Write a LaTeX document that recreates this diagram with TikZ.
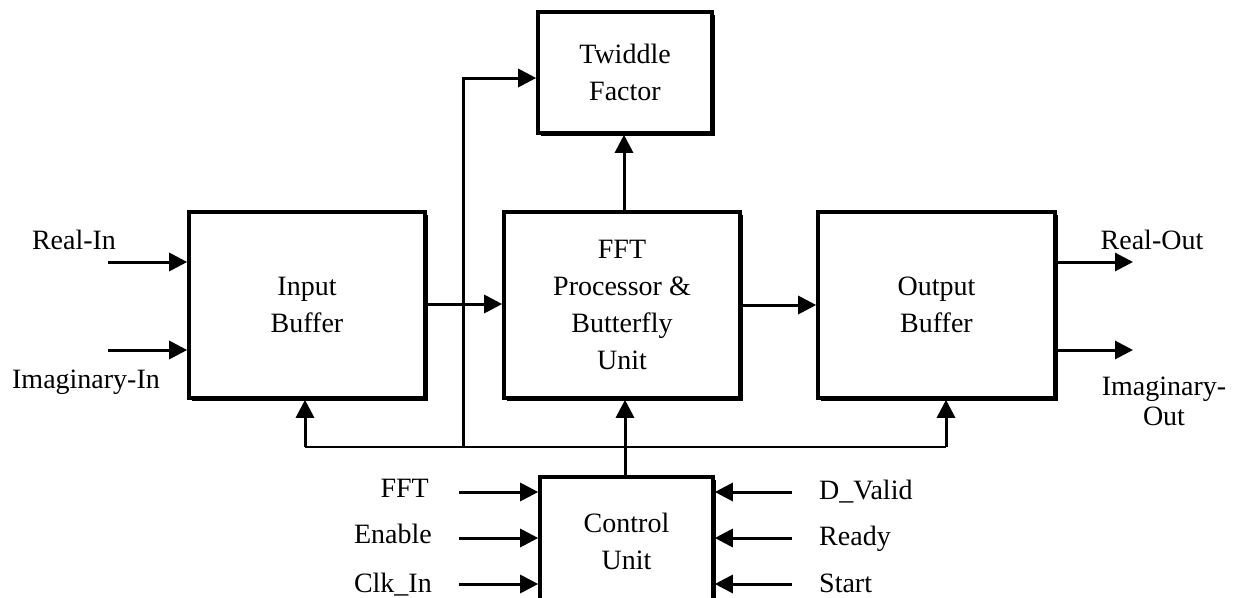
\documentclass[tikz,border=0pt]{standalone}
\usepackage{fontspec}
\setmainfont{Liberation Serif}
\usetikzlibrary{arrows.meta,shadows}

\begin{document}
\begin{tikzpicture}[x=1pt,y=-1pt,
  txt/.style={font=\fontsize{28}{37}\selectfont, inner sep=0pt},
  blk/.style={draw, fill=white, line width=3.6pt, align=center, txt,
    drop shadow={shadow xshift=2.8pt, shadow yshift=-2.8pt, fill=black, opacity=1}},
  arr/.style={line width=3pt, -{Triangle[length=18pt,width=18pt]}},
  wire/.style={line width=2.8pt},
  lbl/.style={txt, anchor=base}]
\useasboundingbox (0,0) rectangle (1236,597);

% blocks
\node[blk, minimum width=236pt, minimum height=186pt] (inb) at (307,305) {Input\\Buffer};
\node[blk, minimum width=236pt, minimum height=186pt] (fft) at (622,305) {FFT\\Processor \&\\Butterfly\\Unit};
\node[blk, minimum width=237pt, minimum height=186pt] (outb) at (936.5,305) {Output\\Buffer};
\node[blk, minimum width=174pt, minimum height=121pt] (tw) at (625,72.5) {Twiddle\\Factor};
\node[blk, minimum width=173pt, minimum height=128pt] (ctl) at (626.5,541) {Control\\Unit};

% external inputs / outputs
\coordinate (ri) at (108,262);
\coordinate (ii) at (108,350);
\coordinate (ro) at (1133,262);
\coordinate (io) at (1133,350);
\draw[arr] (ri) -- (ri -| inb.west);
\draw[arr] (ii) -- (ii -| inb.west);
\draw[arr] (ro -| outb.east) -- (ro);
\draw[arr] (io -| outb.east) -- (io);

\node[lbl] (lri) at (74,249) {Real-In};
\node[lbl] (lii) at (86,388) {Imaginary-In};
\node[lbl] (lro) at (1152,249) {Real-Out};
\node[txt, align=center, anchor=base, font=\fontsize{28}{30}\selectfont] (lio) at (1164,425) {Imaginary-\\Out};

% data path
\coordinate (dp) at (0,304);
\draw[arr] (inb.east |- dp) -- (fft.west |- dp);
\draw[arr] (fft.east) -- (outb.west);
\draw[arr] (fft.north -| 624,0) -- (tw.south -| 624,0);

% control bus
\coordinate (bl) at (305,447);
\coordinate (br) at (946,447);
\coordinate (tap) at (463,447);
\coordinate (twin) at (463,78);
\draw[wire] (bl) -- (br);
\draw[arr] (bl) -- (bl |- inb.south);
\draw[arr] (br) -- (br |- outb.south);
\draw[arr] (ctl.north -| 625,0) -- (fft.south -| 625,0);
\draw[arr] (tap) -- (twin) -- (twin -| tw.west);

% control unit inputs
\coordinate (c1) at (459,492);
\coordinate (c2) at (459,538);
\coordinate (c3) at (459,584);
\coordinate (d1) at (792,492);
\coordinate (d2) at (792,538);
\coordinate (d3) at (792,584);
\draw[arr] (c1) -- (c1 -| ctl.west);
\draw[arr] (c2) -- (c2 -| ctl.west);
\draw[arr] (c3) -- (c3 -| ctl.west);
\draw[arr] (d1) -- (d1 -| ctl.east);
\draw[arr] (d2) -- (d2 -| ctl.east);
\draw[arr] (d3) -- (d3 -| ctl.east);

\node[txt, anchor=base east] (lfft) at (429,497) {FFT};
\node[txt, anchor=base east] (len) at (432,543) {Enable};
\node[txt, anchor=base east] (lclk) at (432,592) {Clk\_In};
\node[txt, anchor=base west] (ldv) at (819,499) {D\_Valid};
\node[txt, anchor=base west] (lrd) at (819,545) {Ready};
\node[txt, anchor=base west] (lst) at (819,592) {Start};
\end{tikzpicture}
\end{document}
